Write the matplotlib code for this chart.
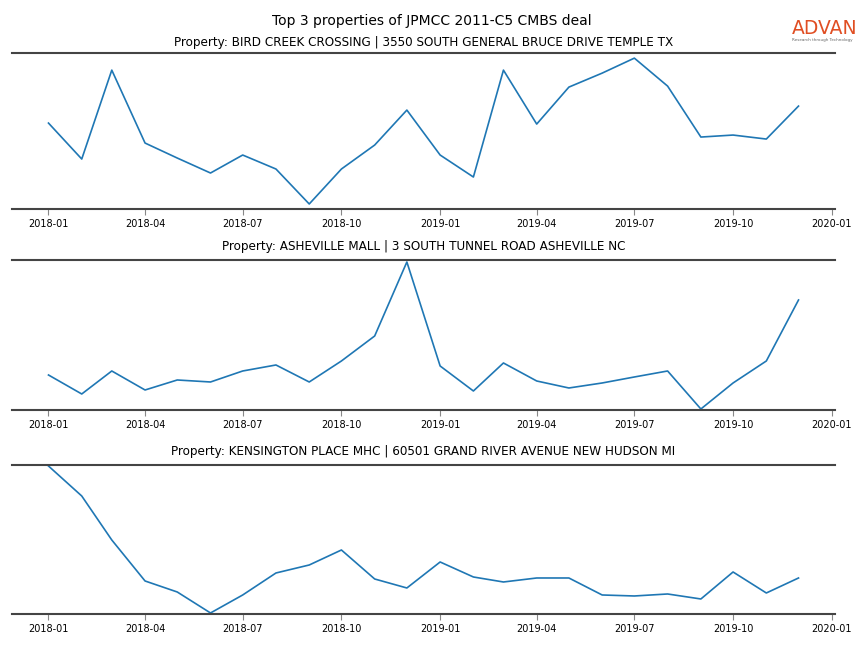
import matplotlib
matplotlib.use("Agg")
import matplotlib.pyplot as plt
import matplotlib.dates as mdates
import pandas as pd

months = pd.date_range("2018-01-01", "2019-12-01", freq="MS")

titles = [
    "Property: BIRD CREEK CROSSING | 3550 SOUTH GENERAL BRUCE DRIVE TEMPLE TX",
    "Property: ASHEVILLE MALL | 3 SOUTH TUNNEL ROAD ASHEVILLE NC",
    "Property: KENSINGTON PLACE MHC | 60501 GRAND RIVER AVENUE NEW HUDSON MI",
]

bird_creek = [86, 50, 139, 66, 51, 36, 54, 40, 5, 40, 64, 99,
              54, 32, 139, 85, 122, 136, 151, 123, 72, 74, 70, 103]
asheville = [35, 16, 39, 20, 30, 28, 39, 45, 28, 49, 74, 148,
             44, 19, 47, 29, 22, 27, 33, 39, 1, 27, 49, 110]
kensington = [148, 118, 74, 33, 22, 1, 19, 41, 49, 64, 35, 26,
              52, 37, 32, 36, 36, 19, 18, 20, 15, 42, 21, 36]

series = [bird_creek, asheville, kensington]
ylims = [(0, 156), (0, 150), (0, 149)]
pads = [5, 7.5, 7.5]

fig = plt.figure(figsize=(8.64, 6.48), dpi=100)
boxes = [(0.918, 0.6775), (0.5988, 0.3673), (0.2824, 0.0525)]
left, right = 12 / 864, 835 / 864

for (top, bot), vals, title, yl, pad in zip(boxes, series, titles, ylims, pads):
    ax = fig.add_axes([left, bot, right - left, top - bot])
    ax.plot(months, vals, color="#1f77b4", linewidth=1.2)
    ax.set_ylim(*yl)
    ax.set_xlim(pd.Timestamp("2017-11-28"), pd.Timestamp("2020-01-04"))
    ax.xaxis.set_major_locator(mdates.MonthLocator(bymonth=[1, 4, 7, 10]))
    ax.xaxis.set_major_formatter(mdates.DateFormatter("%Y-%m"))
    ax.set_yticks([])
    for s in ["left", "right"]:
        ax.spines[s].set_visible(False)
    for s in ["top", "bottom"]:
        ax.spines[s].set_color("#444444")
        ax.spines[s].set_linewidth(1.5)
    ax.tick_params(axis="x", labelsize=7, color="#888888", length=4, width=0.8, pad=3)
    ax.set_title(title, fontsize=8.65, pad=pad)

fig.suptitle("Top 3 properties of JPMCC 2011-C5 CMBS deal", fontsize=10, y=0.979)
fig.text(0.916, 0.947, "ADVAN", color="#e04e23", fontsize=13.5, ha="left", va="baseline")
fig.text(0.917, 0.937, "Research through Technology", color="#666666", fontsize=3, ha="left", va="baseline")

fig.savefig("out.png", dpi=100)
